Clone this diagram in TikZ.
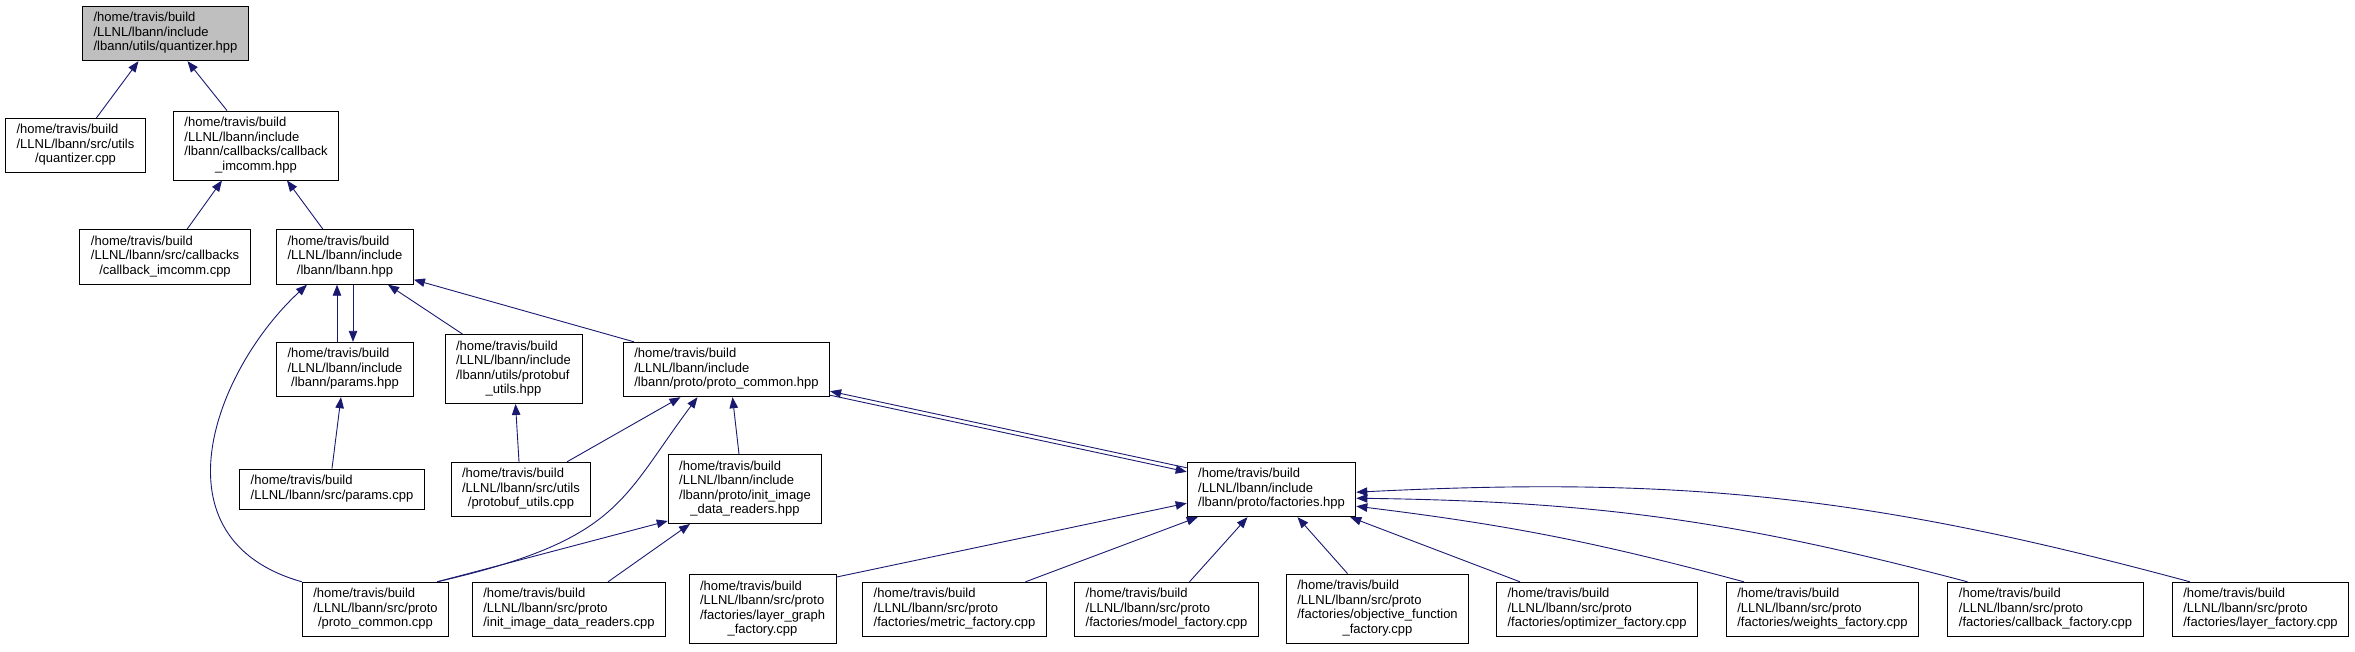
\documentclass[tikz,border=0pt]{standalone}
\usepackage{fontspec}
\setmainfont{Liberation Sans}
\usetikzlibrary{arrows.meta}
\definecolor{edgeblue}{HTML}{191970}
\definecolor{rootgray}{HTML}{BFBFBF}
\newcommand{\fpath}[2]{\begin{tabular}{@{}l@{}}#1\\\multicolumn{1}{@{}c@{}}{#2}\end{tabular}}
\tikzset{
  filebox/.style={draw=black, line width=0.9pt, fill=white, inner xsep=11pt, inner ysep=5.5pt},
  rootbox/.style={filebox, fill=rootgray},
  dep/.style={draw=edgeblue, line width=0.9pt, -{Triangle[length=11pt,width=8.5pt]}}
}

\begin{document}
\begin{tikzpicture}[x=1pt, y=-1pt, font=\fontsize{13pt}{14.5pt}\selectfont]
  \useasboundingbox (0,0) rectangle (2355,651);

  \node[rootbox] (qhpp) at (165.5,33.5) {\fpath{/home/travis/build\\/LLNL/lbann/include}{/lbann/utils/quantizer.hpp}};
  \node[filebox] (qcpp) at (75.5,145.5) {\fpath{/home/travis/build\\/LLNL/lbann/src/utils}{/quantizer.cpp}};
  \node[filebox] (cbhpp) at (256,145.5) {\fpath{/home/travis/build\\/LLNL/lbann/include\\/lbann/callbacks/callback}{\_imcomm.hpp}};
  \node[filebox] (cbcpp) at (165,257) {\fpath{/home/travis/build\\/LLNL/lbann/src/callbacks}{/callback\_imcomm.cpp}};
  \node[filebox] (lbannhpp) at (345,257) {\fpath{/home/travis/build\\/LLNL/lbann/include}{/lbann/lbann.hpp}};
  \node[filebox] (paramshpp) at (345,369.5) {\fpath{/home/travis/build\\/LLNL/lbann/include}{/lbann/params.hpp}};
  \node[filebox] (pbhpp) at (513.5,369) {\fpath{/home/travis/build\\/LLNL/lbann/include\\/lbann/utils/protobuf}{\_utils.hpp}};
  \node[filebox] (pchpp) at (726.5,369.5) {\fpath{/home/travis/build\\/LLNL/lbann/include}{/lbann/proto/proto\_common.hpp}};
  \node[filebox] (paramscpp) at (332,489) {\fpath{/home/travis/build}{/LLNL/lbann/src/params.cpp}};
  \node[filebox] (pbcpp) at (521,489.5) {\fpath{/home/travis/build\\/LLNL/lbann/src/utils}{/protobuf\_utils.cpp}};
  \node[filebox] (iihpp) at (745,489) {\fpath{/home/travis/build\\/LLNL/lbann/include\\/lbann/proto/init\_image}{\_data\_readers.hpp}};
  \node[filebox] (facthpp) at (1271.5,489.5) {\fpath{/home/travis/build\\/LLNL/lbann/include}{/lbann/proto/factories.hpp}};
  \node[filebox] (pccpp) at (375.5,609.5) {\fpath{/home/travis/build\\/LLNL/lbann/src/proto}{/proto\_common.cpp}};
  \node[filebox] (iicpp) at (569,609.5) {\fpath{/home/travis/build\\/LLNL/lbann/src/proto}{/init\_image\_data\_readers.cpp}};
  \node[filebox] (lgf) at (762.5,609) {\fpath{/home/travis/build\\/LLNL/lbann/src/proto\\/factories/layer\_graph}{\_factory.cpp}};
  \node[filebox] (objf) at (1377.5,608.5) {\fpath{/home/travis/build\\/LLNL/lbann/src/proto\\/factories/objective\_function}{\_factory.cpp}};
  \foreach \nm/\x/\f in {metricf/954.5/metric, modelf/1166.5/model, optf/1597/optimizer,
                         weightsf/1822.5/weights, callbackf/2045.5/callback, layerf/2260.5/layer} {
    \node[filebox] (\nm) at (\x,609.5) {\fpath{/home/travis/build\\/LLNL/lbann/src/proto}{/factories/\f\_factory.cpp}};
  }

  % includes, arrow at the included header
  \draw[dep] ([xshift=21]qcpp.north) -- ([xshift=-27]qhpp.south);
  \draw[dep] ([xshift=-29]cbhpp.north) -- ([xshift=22]qhpp.south);
  \draw[dep] ([xshift=22]cbcpp.north) -- ([xshift=-34]cbhpp.south);
  \draw[dep] ([xshift=-22]lbannhpp.north) -- ([xshift=31]cbhpp.south);
  \draw[dep] (pccpp.north west) .. controls +(-152,-43) and +(-92,85) .. ([xshift=-38]lbannhpp.south);
  \draw[dep] ([xshift=-8]paramshpp.north) -- ([xshift=-8]lbannhpp.south);
  \draw[dep] ([xshift=8]lbannhpp.south) -- ([xshift=8]paramshpp.north);
  \draw[dep] ([xshift=-51]pbhpp.north) -- ([xshift=43]lbannhpp.south);
  \draw[dep] ([xshift=11]pchpp.north west) -- ([yshift=5]lbannhpp.south east);
  \draw[dep] (paramscpp.north) -- ([xshift=-4]paramshpp.south);
  \draw[dep] ([xshift=-2]pbcpp.north) -- ([xshift=2]pbhpp.south);
  \draw[dep] ([xshift=46]pbcpp.north) -- ([xshift=-46]pchpp.south);
  \draw[dep] ([xshift=-12]pccpp.north east) .. controls +(183,-42) and +(-77,103) .. ([xshift=-29]pchpp.south);
  \draw[dep] ([xshift=-6]iihpp.north) -- ([xshift=6]pchpp.south);
  \draw[dep] ([yshift=-6]facthpp.north west) -- ([yshift=6]pchpp.south east);
  \draw[dep] ([yshift=2]pchpp.south east) -- ([yshift=-10]facthpp.north west);
  \draw[dep] ([xshift=-12]pccpp.north east) -- ([yshift=3]iihpp.south west);
  \draw[dep] ([xshift=39]iicpp.north) -- ([xshift=-55]iihpp.south);
  \draw[dep] ([yshift=-3]lgf.north east) -- ([yshift=14]facthpp.south west);
  \draw[dep] ([xshift=71]metricf.north) -- ([xshift=11]facthpp.south west);
  \draw[dep] ([xshift=23]modelf.north) -- ([xshift=-24]facthpp.south);
  \draw[dep] ([xshift=-30]objf.north) -- ([xshift=26]facthpp.south);
  \draw[dep] ([xshift=-77]optf.north) -- ([xshift=-6]facthpp.south east);
  \draw[dep] ([xshift=18]weightsf.north west) to[bend right=4] ([yshift=11]facthpp.south east);
  \draw[dep] ([xshift=20]callbackf.north west) to[bend right=7] ([yshift=19]facthpp.south east);
  \draw[dep] ([xshift=18]layerf.north west) to[bend right=9] ([yshift=25]facthpp.south east);
\end{tikzpicture}
\end{document}
